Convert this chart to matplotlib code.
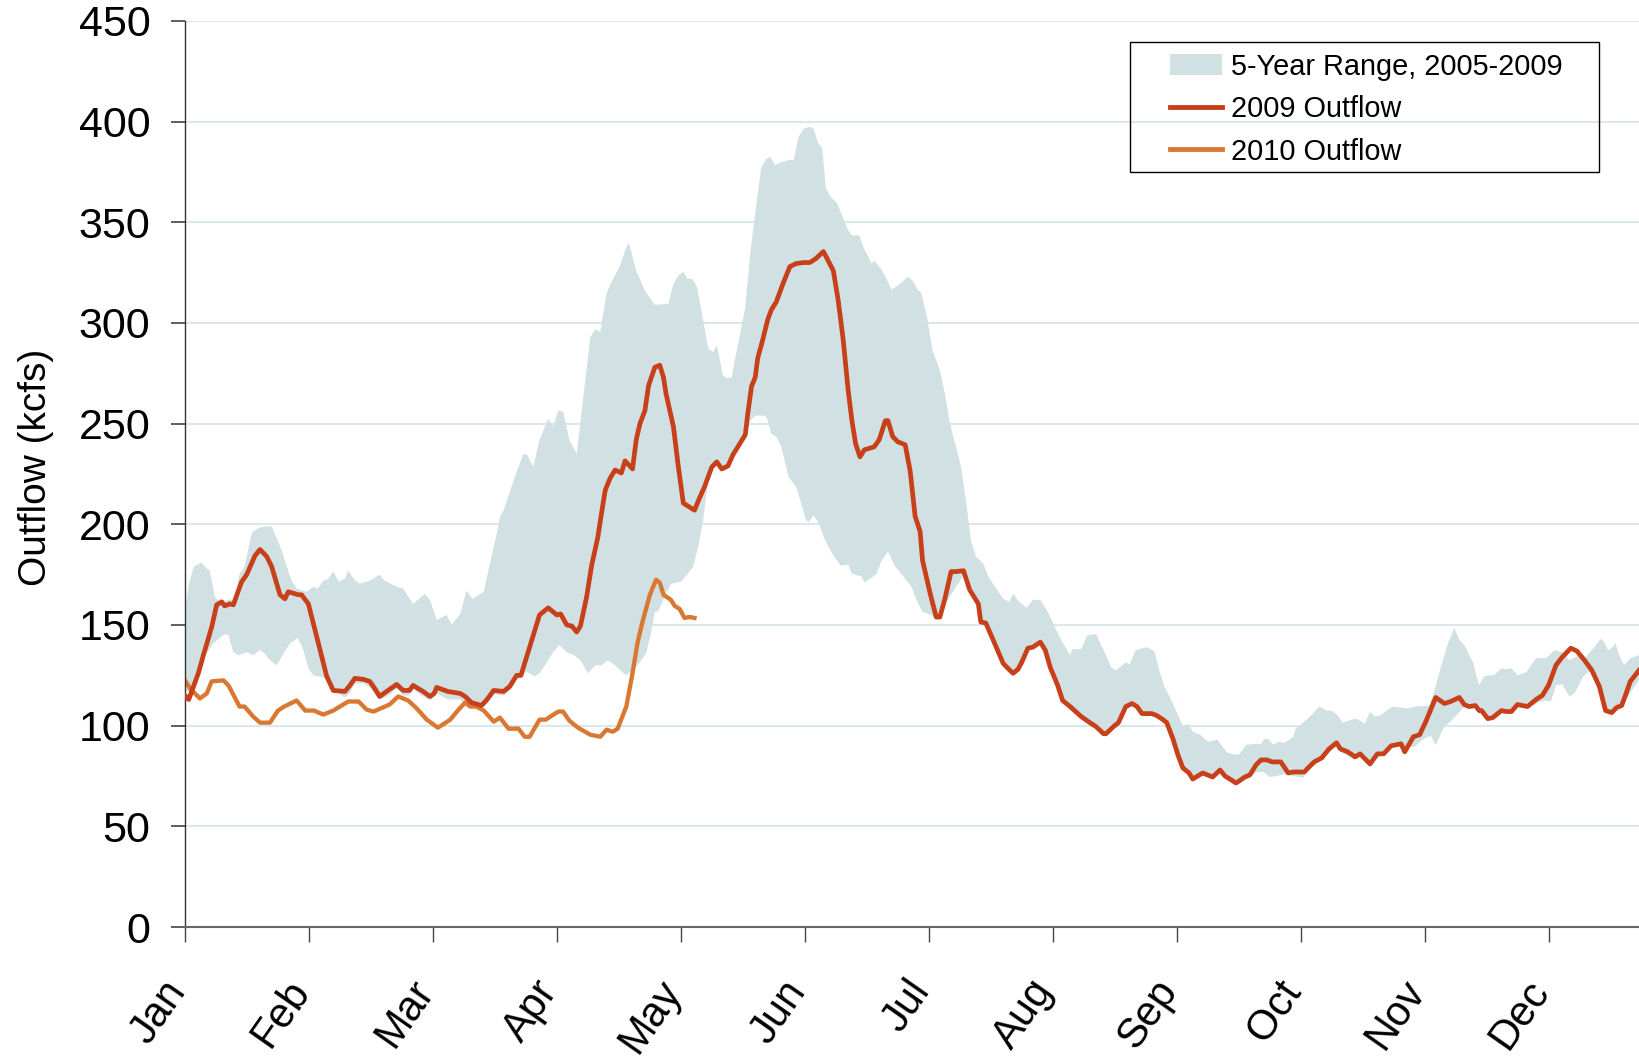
import matplotlib
matplotlib.use("Agg")
import matplotlib.pyplot as plt
from matplotlib.lines import Line2D
from matplotlib.patches import Patch, Rectangle
from matplotlib.transforms import ScaledTranslation

plt.rcParams['font.family'] = ['Liberation Sans', 'DejaVu Sans']

# x positions are in months since Jan 1 (0 = Jan, 1 = Feb, ...)
months = ['Jan', 'Feb', 'Mar', 'Apr', 'May', 'Jun', 'Jul', 'Aug', 'Sep', 'Oct', 'Nov', 'Dec']

# 5-year range (2005-2009), upper edge
range_hi_x = [0.0, 0.03, 0.07, 0.135, 0.175, 0.2, 0.24, 0.28, 0.4, 0.44, 0.48, 0.54, 0.59, 0.645, 0.7,
              0.78, 0.82, 0.86, 0.9, 0.98, 1.035, 1.07, 1.115, 1.155, 1.196, 1.24, 1.29, 1.317, 1.36, 1.41,
              1.49, 1.57, 1.61, 1.707, 1.76, 1.84, 1.935, 1.976, 2.03, 2.11, 2.15, 2.22, 2.27, 2.32, 2.41,
              2.46, 2.51, 2.54, 2.57, 2.62, 2.66, 2.73, 2.76, 2.81, 2.86, 2.93, 2.97, 3.01, 3.05, 3.1,
              3.16, 3.21, 3.27, 3.31, 3.35, 3.4, 3.43, 3.51, 3.55, 3.58, 3.64, 3.71, 3.79, 3.9, 3.94,
              3.98, 4.02, 4.05, 4.09, 4.13, 4.18, 4.22, 4.26, 4.29, 4.34, 4.37, 4.41, 4.44, 4.48, 4.52,
              4.56, 4.61, 4.65, 4.69, 4.72, 4.76, 4.82, 4.87, 4.91, 4.95, 4.99, 5.04, 5.07, 5.11, 5.14,
              5.17, 5.21, 5.26, 5.3, 5.35, 5.38, 5.44, 5.47, 5.54, 5.56, 5.63, 5.7, 5.77, 5.83, 5.87,
              5.91, 5.94, 5.99, 6.03, 6.09, 6.13, 6.17, 6.22, 6.26, 6.3, 6.34, 6.38, 6.44, 6.48, 6.55,
              6.6, 6.65, 6.68, 6.73, 6.79, 6.84, 6.9, 6.96, 7.06, 7.14, 7.16, 7.23, 7.28, 7.35, 7.39,
              7.43, 7.47, 7.51, 7.55, 7.59, 7.62, 7.67, 7.76, 7.82, 7.86, 7.9, 7.97, 8.04, 8.06, 8.09,
              8.13, 8.19, 8.25, 8.33, 8.36, 8.41, 8.48, 8.51, 8.56, 8.64, 8.68, 8.71, 8.74, 8.78, 8.82,
              8.87, 8.91, 8.94, 8.96, 9.05, 9.1, 9.15, 9.21, 9.25, 9.3, 9.34, 9.41, 9.45, 9.52, 9.56,
              9.6, 9.64, 9.74, 9.81, 9.85, 9.93, 10.04, 10.09, 10.13, 10.19, 10.24, 10.28, 10.32, 10.39,
              10.44, 10.48, 10.52, 10.56, 10.62, 10.66, 10.7, 10.75, 10.82, 10.9, 10.98, 11.05, 11.11,
              11.17, 11.22, 11.26, 11.3, 11.37, 11.42, 11.44, 11.48, 11.51, 11.54, 11.57, 11.61, 11.66,
              11.73]
range_hi = [157, 170, 179, 181, 178, 177, 164, 161.5, 163, 175.5, 179, 196, 198, 199, 199,
            187, 179, 172, 168, 166.5, 169, 168, 172, 173, 176.5, 171.5, 173, 177, 173, 170.5,
            172, 175, 172, 169, 168, 160.5, 165.5, 162.5, 152.5, 155, 150, 155.5, 167, 163, 166.5,
            180.5, 194, 203.5, 207, 216, 223.5, 235, 234.5, 228.5, 242, 252.5, 248.5, 256.5, 256, 242,
            235, 261.5, 293, 297, 295.5, 314.5, 319, 328.5, 336, 340, 326, 316, 309, 309.5, 319.5,
            323.5, 325.5, 322, 322, 318, 301.5, 287.5, 285.5, 289, 274, 272.5, 273, 283, 295, 308,
            334.5, 359.5, 377.5, 381.5, 382.5, 378.5, 380, 381, 381, 392.5, 396.5, 397.5, 396.5, 389, 387,
            367, 362.5, 359.5, 353.5, 346, 343.5, 343.5, 338, 329.5, 331, 325.5, 316.5, 319.5, 323, 321,
            316.5, 315, 301.5, 286.5, 276.5, 265, 250, 238.5, 228.5, 212, 192, 184, 180.5, 174, 167.5,
            163, 161.5, 165.5, 161.5, 158.5, 162.5, 162.5, 156.5, 143.5, 135, 138, 138, 145, 145.5, 140,
            135, 129, 127.5, 129.5, 131.5, 130.5, 137.5, 139, 137, 127.5, 119.5, 111, 101, 99.5, 101,
            97, 95.5, 92, 93, 90.5, 86.5, 85.5, 86, 90.5, 91, 91, 93.5, 93.5, 90.5, 92,
            91.5, 93, 94.5, 98.5, 103, 106, 109.5, 107.5, 107.5, 105, 101.5, 103, 103.5, 101, 107,
            104.5, 105, 109.5, 109, 108.5, 109.5, 110, 119.5, 129, 141, 148.5, 142.5, 140, 131.5,
            120, 124.5, 125, 125, 128.5, 128, 128.5, 125, 126.5, 133.5, 133.5, 137.5, 136.5,
            132.5, 134, 136, 134, 139, 143, 142.5, 137.5, 138.5, 141, 135, 130, 133.5,
            135]

# 5-year range, lower edge
range_lo_x = [0.0, 0.05, 0.11, 0.15, 0.23, 0.32, 0.35, 0.39, 0.43, 0.5, 0.55, 0.6, 0.64, 0.685, 0.74,
              0.81, 0.85, 0.91, 0.95, 0.995, 1.035, 1.115, 1.17, 1.21, 1.29, 1.33, 1.37, 1.44, 1.49, 1.53,
              1.57, 1.63, 1.71, 1.76, 1.81, 1.84, 1.92, 1.98, 2.03, 2.12, 2.22, 2.31, 2.39, 2.43, 2.49,
              2.57, 2.62, 2.675, 2.71, 2.75, 2.82, 2.86, 2.92, 2.97, 3.02, 3.08, 3.14, 3.19, 3.25, 3.31,
              3.36, 3.41, 3.47, 3.52, 3.56, 3.61, 3.67, 3.72, 3.76, 3.79, 3.82, 3.84, 3.88, 3.92, 4.0,
              4.05, 4.1, 4.14, 4.18, 4.22, 4.25, 4.29, 4.33, 4.38, 4.42, 4.46, 4.52, 4.56, 4.6, 4.68,
              4.7, 4.73, 4.77, 4.81, 4.87, 4.93, 4.97, 5.01, 5.03, 5.07, 5.11, 5.15, 5.19, 5.23, 5.29,
              5.35, 5.38, 5.46, 5.48, 5.53, 5.58, 5.62, 5.67, 5.73, 5.77, 5.81, 5.86, 5.9, 5.95, 6.02,
              6.06, 6.09, 6.14, 6.22, 6.26, 6.28, 6.33, 6.4, 6.42, 6.46, 6.52, 6.6, 6.63, 6.68, 6.72,
              6.8, 6.84, 6.9, 6.94, 6.98, 7.04, 7.08, 7.14, 7.23, 7.3, 7.35, 7.41, 7.43, 7.49, 7.53,
              7.59, 7.64, 7.68, 7.72, 7.8, 7.84, 7.89, 7.92, 7.97, 8.01, 8.05, 8.1, 8.13, 8.21, 8.29,
              8.35, 8.39, 8.48, 8.55, 8.59, 8.64, 8.7, 8.75, 8.81, 8.87, 8.94, 9.02, 9.06, 9.11, 9.17,
              9.23, 9.29, 9.31, 9.38, 9.44, 9.48, 9.56, 9.62, 9.67, 9.73, 9.81, 9.84, 9.88, 9.92, 9.98,
              10.05, 10.09, 10.16, 10.21, 10.27, 10.32, 10.36, 10.41, 10.46, 10.51, 10.55, 10.62, 10.7,
              10.75, 10.83, 10.9, 10.97, 11.02, 11.06, 11.11, 11.17, 11.21, 11.28, 11.32, 11.35, 11.41,
              11.46, 11.51, 11.55, 11.59, 11.62, 11.7, 11.73]
range_lo = [118, 116, 125, 134, 141, 145.5, 145, 136.5, 135, 136.5, 135, 137.5, 136, 132.5, 130,
            137.5, 141, 143.5, 138.5, 128.5, 125, 124, 121.5, 117, 114, 116, 121, 121, 119, 116,
            113, 114.5, 118.5, 115, 115, 118, 114.5, 112.5, 116, 113, 113, 109.5, 108.5, 110.5, 115.5,
            115, 117.5, 123, 124, 127, 124.5, 126, 131.5, 136.5, 140, 136.5, 135, 132.5, 126, 130,
            130, 132.5, 130, 127, 125, 127.5, 131.5, 136, 146, 156.5, 157, 160, 165.5, 170.5, 171.5,
            175, 179, 189, 202, 222, 227, 229.5, 226.5, 227.5, 233, 237, 243, 251.5, 254, 254,
            252, 245, 243.5, 238.5, 223.5, 218.5, 210.5, 202, 201, 204.5, 201, 194, 189, 184.5, 179.5,
            180, 175.5, 174, 171, 173, 175.5, 182, 186.5, 179, 176, 173, 169, 162.5, 156.5, 155,
            152.5, 152.5, 161, 169, 172.5, 175, 166, 159.5, 150.5, 150, 141.5, 130, 128, 125, 127,
            137.5, 138, 140.5, 136.5, 127.5, 119, 111.5, 108.5, 103.5, 100.5, 98.5, 95, 95, 98.5, 100.5,
            108.5, 110, 108.5, 105, 105, 104, 102, 100.5, 92.5, 84.5, 78, 75.5, 72.5, 75.5, 73.5,
            77, 74, 70.5, 73.5, 74.5, 77, 77, 74.5, 75, 76, 75, 74, 78, 81, 83,
            87.5, 90, 87.5, 85, 83.5, 85, 80, 85, 85, 89, 90, 86, 89.5, 89.5, 93,
            95, 90.5, 99.5, 102, 106, 109.5, 108.5, 109, 106.5, 102.5, 103, 106.5, 106,
            109.5, 108.5, 111, 112.5, 112, 120, 120.5, 114.5, 116, 124.5, 126.5, 126.5, 118.5,
            106.5, 105.5, 108, 109, 112.5, 120, 123]

# 2009 outflow
flow09_x = [0.0, 0.03, 0.107, 0.148, 0.215, 0.255, 0.296, 0.32, 0.363, 0.39, 0.43, 0.457, 0.497, 0.565,
            0.605, 0.659, 0.699, 0.766, 0.806, 0.833, 0.914, 0.94, 0.995, 1.075, 1.143, 1.196, 1.29,
            1.33, 1.37, 1.44, 1.49, 1.53, 1.57, 1.626, 1.707, 1.76, 1.81, 1.84, 1.92, 1.976, 2.01,
            2.03, 2.12, 2.22, 2.26, 2.31, 2.39, 2.43, 2.49, 2.57, 2.62, 2.675, 2.71, 2.78, 2.86, 2.93,
            3.0, 3.03, 3.08, 3.12, 3.16, 3.19, 3.24, 3.28, 3.33, 3.36, 3.39, 3.43, 3.47, 3.52, 3.55,
            3.61, 3.64, 3.67, 3.71, 3.74, 3.79, 3.83, 3.86, 3.88, 3.94, 3.98, 4.02, 4.11, 4.15, 4.19,
            4.25, 4.29, 4.33, 4.38, 4.42, 4.46, 4.52, 4.54, 4.57, 4.6, 4.62, 4.66, 4.7, 4.73, 4.77,
            4.83, 4.88, 4.93, 4.99, 5.04, 5.09, 5.15, 5.23, 5.27, 5.31, 5.35, 5.38, 5.41, 5.445, 5.48,
            5.56, 5.6, 5.65, 5.67, 5.71, 5.75, 5.81, 5.85, 5.89, 5.93, 5.95, 6.01, 6.06, 6.09, 6.13,
            6.18, 6.22, 6.28, 6.33, 6.4, 6.42, 6.46, 6.52, 6.6, 6.63, 6.68, 6.72, 6.75, 6.8, 6.84,
            6.9, 6.94, 6.98, 7.04, 7.08, 7.14, 7.23, 7.3, 7.35, 7.41, 7.43, 7.49, 7.53, 7.59, 7.64,
            7.68, 7.72, 7.8, 7.84, 7.89, 7.92, 7.97, 8.01, 8.05, 8.1, 8.13, 8.21, 8.29, 8.35, 8.39,
            8.48, 8.55, 8.59, 8.64, 8.68, 8.73, 8.77, 8.84, 8.9, 8.94, 9.03, 9.06, 9.11, 9.17, 9.23,
            9.29, 9.32, 9.38, 9.44, 9.48, 9.56, 9.62, 9.67, 9.73, 9.81, 9.84, 9.91, 9.96, 10.01,
            10.09, 10.16, 10.21, 10.28, 10.32, 10.36, 10.41, 10.44, 10.46, 10.51, 10.55, 10.62, 10.66,
            10.7, 10.75, 10.83, 10.9, 10.95, 11.0, 11.06, 11.11, 11.18, 11.23, 11.29, 11.35, 11.41,
            11.46, 11.51, 11.55, 11.59, 11.62, 11.66, 11.73]
flow09 = [115, 113, 126, 135, 149, 160, 161.5, 159.5, 160.5, 160, 167, 171.5, 175, 184.5,
          187.5, 184, 179, 165, 163, 166.5, 165, 165, 160.5, 141, 124.5, 117.5, 117,
          120, 123.5, 123, 122, 118.5, 114.5, 117, 120.5, 117.5, 117.5, 120, 117, 114.5, 116,
          119, 117, 116, 114.5, 111.5, 110, 112.5, 117.5, 117, 119.5, 125, 125, 139, 155, 158.5,
          155, 155.5, 150, 149.5, 146.5, 149.5, 164, 179.5, 193.5, 205.5, 217, 223, 227, 225.5, 231.5,
          227.5, 242, 250, 256.5, 269, 278, 279, 273, 265, 248.5, 228.5, 210.5, 207, 213, 218.5,
          228.5, 231, 227.5, 229, 234.5, 238.5, 244.5, 255, 268.5, 273, 282.5, 291.5, 301.5, 306.5, 310.5,
          320.5, 328, 329.5, 330, 330, 332, 335.5, 326, 311, 291.5, 266.5, 251.5, 240, 233.5, 237,
          238.5, 242, 251.5, 251.5, 243.5, 241, 239.5, 226.5, 204, 196.5, 182, 166, 154, 154, 163,
          176.5, 176.5, 177, 167.5, 160.5, 151.5, 151, 142.5, 131, 129, 126, 128, 131.5, 138.5, 139,
          141.5, 137.5, 129, 120, 112.5, 109.5, 104.5, 101.5, 99.5, 96, 96, 99.5, 101.5, 109.5, 111,
          109.5, 106, 106, 105, 103, 101.5, 93.5, 85.5, 79, 76.5, 73.5, 76.5, 74.5, 78, 75,
          71.5, 74.5, 75.5, 80.5, 83, 83, 82, 82, 76.5, 77, 77, 79, 82, 84, 88.5,
          91.5, 88.5, 87, 84.5, 86, 81, 86, 86, 90, 91, 87, 94.5, 95.5, 102,
          114, 111, 112, 114, 110.5, 109.5, 110, 107.5, 107.5, 103.5, 104, 107.5, 107,
          107, 110.5, 109.5, 113, 115, 120, 130, 134, 138.5, 137, 132.5, 127.5, 119.5,
          107.5, 106.5, 109, 110, 115, 122, 127.5]

# 2010 outflow (through early May)
flow10_x = [0.0, 0.04, 0.12, 0.175, 0.215, 0.31, 0.35, 0.44, 0.48, 0.55, 0.605, 0.685, 0.75, 0.8, 0.9,
            0.97, 1.04, 1.115, 1.196, 1.317, 1.4, 1.465, 1.52, 1.65, 1.72, 1.8, 1.87, 1.95, 2.04, 2.14,
            2.2, 2.26, 2.3, 2.35, 2.41, 2.49, 2.54, 2.61, 2.69, 2.74, 2.78, 2.86, 2.91, 3.01, 3.05,
            3.1, 3.17, 3.27, 3.35, 3.4, 3.45, 3.49, 3.56, 3.61, 3.65, 3.69, 3.75, 3.8, 3.83, 3.86,
            3.92, 3.95, 3.99, 4.03, 4.07, 4.11]
flow10 = [122.5, 118.5, 113.5, 116, 122, 122.5, 120, 109.5, 109.5, 104.5, 101.5, 101.5, 107.5, 109.5, 112.5,
          107.5, 107.5, 105.5, 107.5, 112, 112, 108, 107, 110.5, 114.5, 112.5, 108.5, 103, 99, 103,
          107.5, 111.5, 109.5, 109.5, 107.5, 102, 104, 98.5, 98.5, 94.5, 94.5, 103, 103, 107, 107,
          102.5, 99, 95.5, 94.5, 98, 97, 98.5, 109.5, 126, 141, 151.5, 165, 172.5, 171, 165,
          162.5, 159.5, 158, 153.5, 154, 153.5]

band_color = '#d1e0e3'
red_color = '#c8401a'
orange_color = '#d97833'
grid_color = '#d5e3e7'

fig = plt.figure(figsize=(16.39, 10.58), dpi=100)
ax = fig.add_axes([0.1129, 0.1238, 0.8871, 0.8564])

# shaded range as one polygon: upper edge forward, lower edge back
poly_x = range_hi_x + range_lo_x[::-1]
poly_y = range_hi + range_lo[::-1]
ax.fill(poly_x, poly_y, color=band_color, lw=0, zorder=1)

ax.plot(flow09_x, flow09, color=red_color, lw=3.4, solid_joinstyle='round', zorder=3)
ax.plot(flow10_x, flow10, color=orange_color, lw=3.1, solid_joinstyle='round', zorder=2)

ax.set_xlim(0, 11.73)
ax.set_ylim(0, 450)
ax.set_yticks(range(0, 451, 50))
ax.set_xticks(range(12))
ax.set_xticklabels(months, rotation=55, ha='right', va='center', rotation_mode='anchor')
ax.yaxis.grid(True, color=grid_color, lw=1.2, zorder=0)
ax.set_axisbelow(True)

# small white gap on the 50 gridline, as in the original
ax.plot([0.32, 0.78], [50, 50], color='white', lw=3, zorder=0.5)

for s in ['top', 'right']:
    ax.spines[s].set_visible(False)
ax.spines['left'].set_color('#333333')
ax.spines['bottom'].set_color('#666666')
ax.spines['left'].set_linewidth(1.0)
ax.spines['bottom'].set_linewidth(1.5)

ax.tick_params(axis='y', direction='out', length=10, width=1.2, color='#444444', labelsize=31, pad=15)
ax.tick_params(axis='x', direction='out', length=11, width=1.0, color='#444444', labelsize=30, pad=22)

# nudge month labels down-left
shift = ScaledTranslation(-0.075, -0.115, fig.dpi_scale_trans)
for lab in ax.get_xticklabels():
    lab.set_transform(lab.get_transform() + shift)

ax.set_ylabel('Outflow (kcfs)', fontsize=28)
ax.yaxis.set_label_coords(-0.09, 0.507)

# legend with a hand-placed frame
handles = [Patch(facecolor=band_color, edgecolor='none'),
           Line2D([], [], color=red_color, lw=3.5),
           Line2D([], [], color=orange_color, lw=3.5)]
labels = ['5-Year Range, 2005-2009', '2009 Outflow', '2010 Outflow']
leg = ax.legend(handles, labels, loc='upper left', bbox_to_anchor=(0.6774, 0.965),
                frameon=False, fontsize=20.8, borderpad=0, borderaxespad=0,
                handlelength=1.8, handletextpad=0.3, labelspacing=0.5)
ax.add_patch(Rectangle((0.650, 0.8333), 0.3225, 0.1435, transform=ax.transAxes,
                       fill=False, edgecolor='black', lw=1.0, clip_on=False, zorder=5))

fig.savefig('out.png', dpi=100)
